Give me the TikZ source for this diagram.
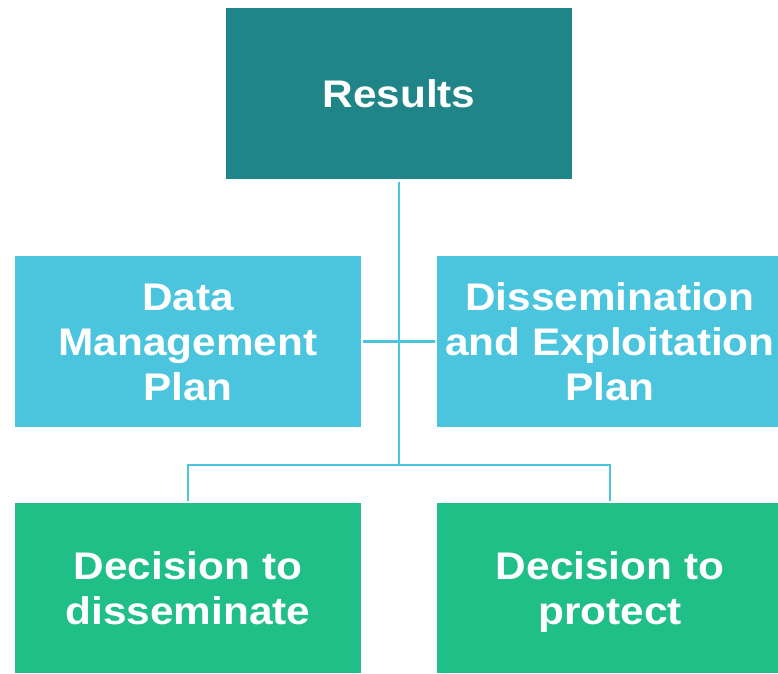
\documentclass[tikz,border=0pt]{standalone}
\usepackage{fontspec}
\newfontfamily\boxfont{Liberation Sans}[FakeStretch=1.1]
\definecolor{teal1}{HTML}{1F8589}
\definecolor{sky1}{HTML}{4BC4DE}
\definecolor{green1}{HTML}{20BF87}
\newcommand\mystrut{\rule[-8.5pt]{0pt}{44pt}}
\begin{document}
\begin{tikzpicture}[x=1pt,y=-1pt,
  box/.style={minimum width=346pt,minimum height=171pt,inner sep=0pt,outer sep=0pt,
    text=white,align=center,font=\boxfont\bfseries\fontsize{38.5}{45}\selectfont},
  conn/.style={draw=sky1,line width=2.6pt}]
\useasboundingbox (0,0) rectangle (778,673);
\begin{scope}
\clip (0,0) rectangle (778,673);
\node[box,fill=teal1] (res) at (399,93.5) {\mystrut Results};
\node[box,fill=sky1] (dmp) at (188,341.5) {\mystrut Data\\\mystrut Management\\\mystrut Plan};
\node[box,fill=sky1] (dep) at (610,341.5) {\mystrut Dissemination\\\mystrut and Exploitation\\\mystrut Plan};
\node[box,fill=green1,minimum height=170pt] (dd) at (188,588) {\mystrut Decision to\\\mystrut disseminate};
\node[box,fill=green1,minimum height=170pt] (dp) at (610,588) {\mystrut Decision to\\\mystrut protect};
\end{scope}
\coordinate (j) at (399,465);
\draw[conn,shorten <=3pt] (res.south) -- (j);
\draw[conn,shorten <=2pt,shorten >=2pt] (dmp.east) -- (dep.west);
\draw[conn,shorten <=2pt] (dd.north) |- (j);
\draw[conn,shorten >=2pt] (j) -| (dp.north);
\end{tikzpicture}
\end{document}
